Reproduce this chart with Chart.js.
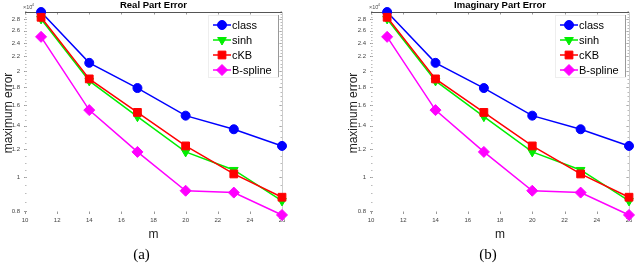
<!DOCTYPE html>
<html>
<head>
<meta charset="utf-8">
<script src="https://cdn.jsdelivr.net/npm/chart.js"></script>
<style>
body { margin: 0; background: #fff; width: 640px; height: 265px; overflow: hidden; position: relative; }
.panel { position: absolute; top: 0; width: 320px; height: 265px; }
</style>
</head>
<body>
<div class="panel" style="left:0"><canvas id="chartA" width="320" height="265"></canvas></div>
<div class="panel" style="left:320px"><canvas id="chartB" width="320" height="265"></canvas></div>
<script>
// values (units of the x10^-4 factor)
var mValues = [11, 14, 17, 20, 23, 26];
var classErr = [2.94, 2.11, 1.79, 1.495, 1.368, 1.227];
var sinhErr = [2.81, 1.875, 1.485, 1.18, 1.049, 0.857];
var ckbErr = [2.84, 1.90, 1.527, 1.227, 1.022, 0.878];
var bsplineErr = [2.50, 1.55, 1.18, 0.916, 0.905, 0.782];
var seriesNames = ['class', 'sinh', 'cKB', 'B-spline'];

var xTicks = [10, 12, 14, 16, 18, 20, 22, 24, 26];
var yTicks = [0.8, 1, 1.2, 1.4, 1.6, 1.8, 2, 2.2, 2.4, 2.6, 2.8];
var yTickLabels = ['0.8', '1', '1.2', '1.4', '1.6', '1.8', '2', '2.2', '2.4', '2.6', '2.8'];

var FONT = '"Liberation Sans", Arial, sans-serif';

var minorTicks = [];
for (var v = 0.85; v < 2.95; v += 0.05) minorTicks.push(Math.round(v * 100) / 100);

function makeDatasets() {
    var cols = ['#0000ff', '#00ee00', '#ff0000', '#ff00ff'];
    var styles = ['circle', 'triangle', 'rect', 'rectRot'];
    var rots = [0, 180, 0, 0];
    var radii = [4.5, 5, 5.5, 5.5];
    var vals = [classErr, sinhErr, ckbErr, bsplineErr];
    // first dataset is drawn on top, so B-spline goes first
    var order = [3, 2, 1, 0];
    return order.map(function(i) {
        return {
            label: seriesNames[i],
            data: mValues.map(function(m, k) { return {x: m, y: vals[i][k]}; }),
            borderColor: cols[i],
            backgroundColor: cols[i],
            borderWidth: 1.5,
            pointStyle: styles[i],
            rotation: rots[i],
            pointRadius: radii[i],
            pointBorderWidth: 1,
            clip: false,
            tension: 0
        };
    });
}

var framePlugin = {
    id: 'frame',
    beforeDatasetsDraw: function(chart) {
        var ctx = chart.ctx, a = chart.chartArea;
        var xs = chart.scales.x, ys = chart.scales.y;
        ctx.save();
        ctx.strokeStyle = '#999';
        ctx.lineWidth = 1;
        xTicks.forEach(function(t) {
            var px = Math.round(xs.getPixelForValue(t)) + 0.5;
            ctx.beginPath();
            ctx.moveTo(px, a.bottom); ctx.lineTo(px, a.bottom - 2.5);
            ctx.moveTo(px, a.top); ctx.lineTo(px, a.top + 2.5);
            ctx.stroke();
        });
        yTicks.forEach(function(t) {
            var py = Math.round(ys.getPixelForValue(t)) + 0.5;
            ctx.beginPath();
            ctx.moveTo(a.left - 1, py); ctx.lineTo(a.left + 2, py);
            ctx.moveTo(a.right, py); ctx.lineTo(a.right - 2.5, py);
            ctx.stroke();
        });
        ctx.strokeStyle = '#bbb';
        minorTicks.forEach(function(t) {
            var py = Math.round(ys.getPixelForValue(t)) + 0.5;
            ctx.beginPath();
            ctx.moveTo(a.left, py); ctx.lineTo(a.left + 1.5, py);
            ctx.moveTo(a.right, py); ctx.lineTo(a.right - 1.5, py);
            ctx.stroke();
        });
        ctx.strokeStyle = '#555';
        ctx.beginPath();
        ctx.moveTo(a.left, Math.round(a.top) + 0.5); ctx.lineTo(a.right, Math.round(a.top) + 0.5);
        ctx.stroke();
        ctx.strokeStyle = '#ccc';
        ctx.beginPath();
        ctx.moveTo(Math.round(a.right) + 0.5, a.top); ctx.lineTo(Math.round(a.right) + 0.5, a.bottom);
        ctx.stroke();
        ctx.restore();
    },
    afterDraw: function(chart) {
        var ctx = chart.ctx, a = chart.chartArea;
        var o = chart.options.plugins.frame;
        var cx = (a.left + a.right) / 2;
        ctx.save();
        ctx.fillStyle = '#000';
        ctx.textAlign = 'center';
        ctx.textBaseline = 'middle';
        ctx.font = 'bold 9.5px ' + FONT;
        ctx.fillText(o.title, cx, 5);
        ctx.font = '15px "Liberation Serif", serif';
        ctx.fillText(o.caption, cx - 12, 255);
        ctx.textAlign = 'left';
        ctx.fillStyle = '#555';
        ctx.font = '5.5px ' + FONT;
        ctx.fillText('\u00d710', a.left - 2, 7);
        ctx.font = '4px ' + FONT;
        ctx.fillText('-4', a.left + 5.5, 5);

        // legend
        var lx = a.right - 74, ly = a.top + 3;
        ctx.fillStyle = '#fff';
        ctx.fillRect(lx, ly, 70, 62);
        ctx.strokeStyle = '#eee';
        ctx.lineWidth = 1;
        ctx.strokeRect(lx + 0.5, ly + 0.5, 70, 62);
        ctx.strokeStyle = '#999';
        ctx.beginPath();
        ctx.moveTo(lx + 70.5, ly); ctx.lineTo(lx + 70.5, ly + 62);
        ctx.stroke();
        var ds = chart.data.datasets.slice().reverse();
        ds.forEach(function(d, i) {
            var y = ly + 10 + i * 15;
            ctx.strokeStyle = d.borderColor;
            ctx.fillStyle = d.backgroundColor;
            ctx.lineWidth = 1.5;
            ctx.beginPath();
            ctx.moveTo(lx + 5, y); ctx.lineTo(lx + 23, y);
            ctx.stroke();
            ctx.lineWidth = 1;
            Chart.helpers.drawPoint(ctx, {pointStyle: d.pointStyle, rotation: d.rotation, radius: d.pointRadius, borderWidth: 1}, lx + 14, y);
            ctx.fillStyle = '#000';
            ctx.font = '11px ' + FONT;
            ctx.textAlign = 'left';
            ctx.fillText(d.label, lx + 24, y + 0.5);
        });
        ctx.restore();
    }
};

function makeChart(id, title, caption, padLeft, yWidth, padRight) {
    return new Chart(document.getElementById(id), {
        type: 'line',
        data: { datasets: makeDatasets() },
        plugins: [framePlugin],
        options: {
            responsive: false,
            animation: false,
            layout: { padding: { top: 12, bottom: 23, left: padLeft, right: padRight } },
            plugins: {
                legend: { display: false },
                tooltip: { enabled: false },
                frame: { title: title, caption: caption }
            },
            scales: {
                x: {
                    type: 'linear',
                    min: 10,
                    max: 26,
                    grid: { display: false, drawTicks: false },
                    border: { display: false },
                    afterBuildTicks: function(s) { s.ticks = xTicks.map(function(t) { return {value: t}; }); },
                    afterFit: function(s) { s.height = 28; },
                    ticks: { font: { size: 6, family: FONT }, color: '#444', padding: 3, maxRotation: 0, autoSkip: false },
                    title: { display: true, text: 'm', font: { size: 12, family: FONT }, color: '#222', padding: { top: 2, bottom: 0 } }
                },
                y: {
                    type: 'logarithmic',
                    min: 0.787,
                    max: 2.94,
                    grid: { display: false, drawTicks: false },
                    border: { display: false },
                    afterBuildTicks: function(s) { s.ticks = yTicks.map(function(t) { return {value: t}; }); },
                    afterFit: function(s) { s.width = yWidth; },
                    ticks: {
                        font: { size: 6, family: FONT },
                        color: '#444',
                        padding: 5,
                        autoSkip: false,
                        callback: function(val) { return yTickLabels[yTicks.indexOf(val)]; }
                    },
                    title: { display: true, text: 'maximum error', font: { size: 12, family: FONT }, color: '#222', padding: { top: 1, bottom: 0 } }
                }
            }
        }
    });
}

makeChart('chartA', 'Real Part Error', '(a)', 0, 25, 38);
makeChart('chartB', 'Imaginary Part Error', '(b)', 25, 26, 11);
</script>
</body>
</html>
